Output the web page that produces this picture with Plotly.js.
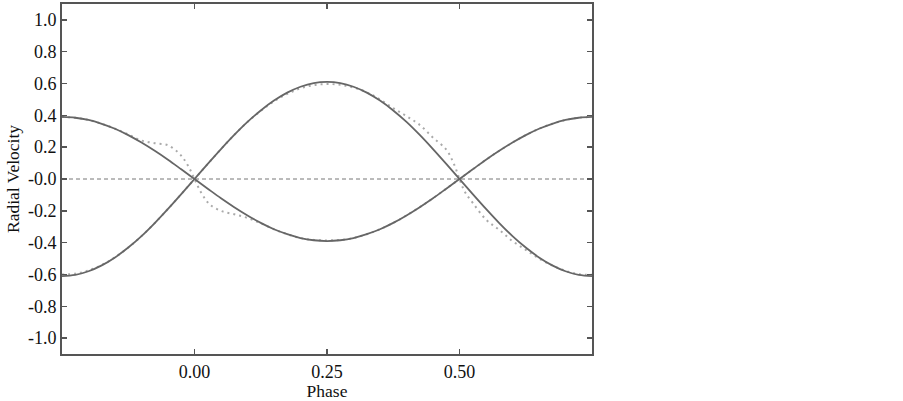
<!DOCTYPE html>
<html>
<head>
<meta charset="utf-8">
<script src="https://cdn.plot.ly/plotly-3.0.1.min.js"></script>
<style>
	html, body { margin: 0; padding: 0; background: #fff; }
	#chart { width: 903px; height: 401px; }
</style>
</head>
<body>
<div id="chart"></div>
<script>
// orbital phase grid for the model curves
var phase = [-0.25, -0.225, -0.2, -0.175, -0.15, -0.125, -0.1, -0.075, -0.05, -0.025,
	0, 0.025, 0.05, 0.075, 0.1, 0.125, 0.15, 0.175, 0.2, 0.225,
	0.25, 0.275, 0.3, 0.325, 0.35, 0.375, 0.4, 0.425, 0.45, 0.475,
	0.5, 0.525, 0.55, 0.575, 0.6, 0.625, 0.65, 0.675, 0.7, 0.725, 0.75];

// primary (larger amplitude) component
var rvPrimary = [-0.610, -0.603, -0.580, -0.543, -0.493, -0.431, -0.359, -0.277, -0.188, -0.095,
	0.000, 0.095, 0.188, 0.277, 0.359, 0.431, 0.493, 0.543, 0.580, 0.603,
	0.610, 0.603, 0.580, 0.543, 0.493, 0.431, 0.359, 0.277, 0.188, 0.095,
	0.000, -0.095, -0.188, -0.277, -0.359, -0.431, -0.493, -0.543, -0.580, -0.603, -0.610];

// secondary (smaller amplitude) component
var rvSecondary = [0.390, 0.385, 0.371, 0.347, 0.316, 0.276, 0.229, 0.177, 0.121, 0.061,
	0.000, -0.061, -0.121, -0.177, -0.229, -0.276, -0.316, -0.347, -0.371, -0.385,
	-0.390, -0.385, -0.371, -0.347, -0.316, -0.276, -0.229, -0.177, -0.121, -0.061,
	0.000, 0.061, 0.121, 0.177, 0.229, 0.276, 0.316, 0.347, 0.371, 0.385, 0.390];

// dotted curves (with the distortion near the crossings)
var phaseDotA = [-0.25, -0.225, -0.2, -0.175, -0.15, -0.125, -0.1, -0.075, -0.05, -0.025,
	0, 0.025, 0.05, 0.075, 0.1, 0.125, 0.15, 0.175, 0.2, 0.225,
	0.25, 0.275, 0.3, 0.325, 0.35, 0.375, 0.4, 0.425, 0.45, 0.475, 0.49,
	0.5, 0.51, 0.525, 0.55, 0.575, 0.6, 0.625, 0.65, 0.675, 0.7, 0.725, 0.75];
var rvDotA = [-0.600, -0.595, -0.575, -0.540, -0.492, -0.431, -0.359, -0.277, -0.188, -0.095,
	0.000, 0.095, 0.188, 0.277, 0.359, 0.428, 0.488, 0.535, 0.570, 0.590,
	0.597, 0.592, 0.575, 0.545, 0.500, 0.445, 0.395, 0.340, 0.260, 0.185, 0.090,
	0.000, -0.080, -0.150, -0.255, -0.320, -0.390, -0.445, -0.500, -0.543, -0.578, -0.598, -0.602];

var phaseDotB = [-0.25, -0.225, -0.2, -0.175, -0.15, -0.125, -0.1, -0.075, -0.05, -0.03, -0.02, -0.01,
	0, 0.01, 0.02, 0.03, 0.05, 0.075, 0.1, 0.125, 0.15, 0.175, 0.2, 0.225,
	0.25, 0.275, 0.3, 0.325, 0.35, 0.375, 0.4, 0.425, 0.45, 0.475,
	0.5, 0.525, 0.55, 0.575, 0.6, 0.625, 0.65, 0.675, 0.7, 0.725, 0.75];
var rvDotB = [0.390, 0.385, 0.371, 0.347, 0.316, 0.280, 0.242, 0.225, 0.212, 0.164, 0.125, 0.070,
	0.000, -0.070, -0.125, -0.164, -0.200, -0.222, -0.245, -0.278, -0.316, -0.347, -0.371, -0.383,
	-0.386, -0.383, -0.371, -0.347, -0.316, -0.276, -0.229, -0.177, -0.121, -0.061,
	0.000, 0.061, 0.121, 0.177, 0.229, 0.276, 0.316, 0.347, 0.371, 0.385, 0.390];

// systemic velocity reference
var phaseSpan = [-0.25, 0.75];
var systemic = [0, 0];

var yTickVals = [-1.0, -0.8, -0.6, -0.4, -0.2, 0, 0.2, 0.4, 0.6, 0.8, 1.0];
var yTickText = ['-1.0', '-0.8', '-0.6', '-0.4', '-0.2', '-0.0', '0.2', '0.4', '0.6', '0.8', '1.0'];
var xTickVals = [0, 0.25, 0.5];
var xTickText = ['0.00', '0.25', '0.50'];

var data = [{
	x: phaseSpan,
	y: systemic,
	type: 'scatter',
	mode: 'lines',
	line: {color: '#777', width: 1, dash: '4px,3px'},
	hoverinfo: 'skip'
}, {
	x: phaseDotA,
	y: rvDotA,
	type: 'scatter',
	mode: 'lines',
	line: {color: '#aaa', width: 2, dash: '2px,4px', shape: 'spline'}
}, {
	x: phaseDotB,
	y: rvDotB,
	type: 'scatter',
	mode: 'lines',
	line: {color: '#aaa', width: 2, dash: '2px,4px', shape: 'spline'}
}, {
	x: phase,
	y: rvPrimary,
	type: 'scatter',
	mode: 'lines',
	line: {color: '#666', width: 1.8, shape: 'spline'}
}, {
	x: phase,
	y: rvSecondary,
	type: 'scatter',
	mode: 'lines',
	line: {color: '#666', width: 1.8, shape: 'spline'}
}];

var tickFont = {family: 'Liberation Serif, Times New Roman, serif', size: 18, color: '#111'};
var titleFont = {family: 'Liberation Serif, Times New Roman, serif', size: 17.5, color: '#111'};

var layout = {
	width: 903,
	height: 401,
	paper_bgcolor: '#fff',
	plot_bgcolor: '#fff',
	showlegend: false,
	margin: {l: 62, r: 311, t: 4, b: 47},
	xaxis: {
		range: [-0.25, 0.75],
		tickvals: xTickVals,
		ticktext: xTickText,
		ticks: 'inside',
		ticklen: 5,
		tickwidth: 1.5,
		tickcolor: '#555',
		showline: true,
		linecolor: '#555',
		linewidth: 2,
		mirror: 'ticks',
		showgrid: false,
		zeroline: false,
		tickfont: tickFont,
		title: {text: 'Phase', font: titleFont, standoff: 2}
	},
	yaxis: {
		range: [-1.1, 1.1],
		tickvals: yTickVals,
		ticktext: yTickText,
		ticks: 'inside',
		ticklen: 5,
		tickwidth: 1.5,
		tickcolor: '#555',
		showline: true,
		linecolor: '#555',
		linewidth: 2,
		mirror: 'ticks',
		showgrid: false,
		zeroline: false,
		tickfont: tickFont,
		title: {text: 'Radial Velocity', font: titleFont, standoff: 4}
	}
};

Plotly.newPlot('chart', data, layout, {displayModeBar: false, staticPlot: true});
</script>
</body>
</html>
